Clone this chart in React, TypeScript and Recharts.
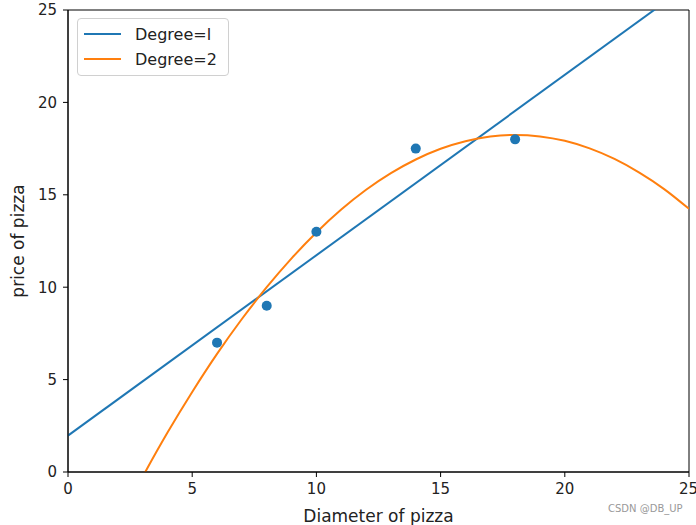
import React from 'react';
import { ComposedChart, Line, Scatter, XAxis, YAxis, ReferenceArea } from 'recharts';

// observed pizza samples
const diameters = [6, 8, 10, 14, 18];
const prices = [7, 9, 13, 17.5, 18];

// degree=1 fit, end points (clipped at top)
const linX = [0, 25];
const linY = [1.97, 26.37];

// degree=2 fit, sampled along x from the picture
const quadX = [0, 1, 2, 3, 4, 5, 6, 7, 8, 9, 10, 11, 12, 13, 14, 15, 16, 17, 18, 19, 20, 21, 22, 23, 24, 25];
const quadY = [-8.4, -5.52, -2.81, -0.27, 2.12, 4.33, 6.39, 8.28, 10.0, 11.56, 12.96, 14.2, 15.27, 16.17, 16.91, 17.49, 17.9, 18.15, 18.24, 18.16, 17.92, 17.51, 16.94, 16.2, 15.31, 14.24];

const ticks = [0, 5, 10, 15, 20, 25];
const seriesNames = ['Degree=l', 'Degree=2'];

const points = diameters.map((x, i) => ({ x, y: prices[i] }));
const linData = linX.map((x, i) => ({ x, y: linY[i] }));
const quadData = quadX.map((x, i) => ({ x, y: quadY[i] }));

const FONT = '"DejaVu Sans", sans-serif';
const BLUE = '#1f77b4';
const ORANGE = '#ff7f0e';

function LegendBox() {
  const colors = [BLUE, ORANGE];
  return (
    <div style={{ position: 'absolute', left: 77, top: 18, width: 152, height: 58, border: '1px solid #d0d0d0', borderRadius: 4, background: 'rgba(255,255,255,0.8)', boxSizing: 'border-box', fontFamily: FONT, fontSize: 16, color: '#222' }}>
      {seriesNames.map((name, i) => (
        <div key={i} style={{ position: 'absolute', left: 6, top: 5 + i * 25, display: 'flex', alignItems: 'center', height: 20 }}>
          <div style={{ width: 37, height: 2, background: colors[i] }} />
          <span style={{ marginLeft: 14 }}>{name}</span>
        </div>
      ))}
    </div>
  );
}

export default function App() {
  return (
    <div style={{ position: 'absolute', left: 0, top: 0, width: 696, height: 525, background: '#fff' }}>
      <ComposedChart width={696} height={525} margin={{ top: 10, right: 7, bottom: 0, left: 0 }}>
        <XAxis
          type="number"
          dataKey="x"
          domain={[0, 25]}
          ticks={ticks}
          allowDataOverflow
          stroke="#000"
          tickSize={5}
          tickMargin={6}
          height={53}
          tick={{ fill: '#222', fontSize: 15, fontFamily: FONT }}
          label={{ value: 'Diameter of pizza', position: 'insideBottom', offset: 3, fill: '#222', fontSize: 17, fontFamily: FONT }}
        />
        <YAxis
          type="number"
          dataKey="y"
          domain={[0, 25]}
          ticks={ticks}
          allowDataOverflow
          stroke="#000"
          tickSize={5}
          tickMargin={6}
          width={68}
          tick={{ fill: '#222', fontSize: 15, fontFamily: FONT }}
          label={{ value: 'price of pizza', angle: -90, position: 'insideLeft', offset: 18, fill: '#222', fontSize: 17, fontFamily: FONT, style: { textAnchor: 'middle' } }}
        />
        <ReferenceArea x1={0} x2={25} y1={0} y2={25} fill="none" stroke="#000" strokeWidth={1} ifOverflow="visible" />
        <Line data={linData} dataKey="y" type="linear" stroke={BLUE} strokeWidth={2} dot={false} isAnimationActive={false} name={seriesNames[0]} />
        <Line data={quadData} dataKey="y" type="monotone" stroke={ORANGE} strokeWidth={2} dot={false} isAnimationActive={false} name={seriesNames[1]} />
        <Scatter data={points} dataKey="y" fill={BLUE} shape={(p: any) => <circle cx={p.cx} cy={p.cy} r={5} fill={BLUE} />} isAnimationActive={false} />
      </ComposedChart>
      <LegendBox />
      <div style={{ position: 'absolute', left: 608, top: 503, fontFamily: FONT, fontSize: 10, color: '#999' }}>CSDN @DB_UP</div>
    </div>
  );
}
